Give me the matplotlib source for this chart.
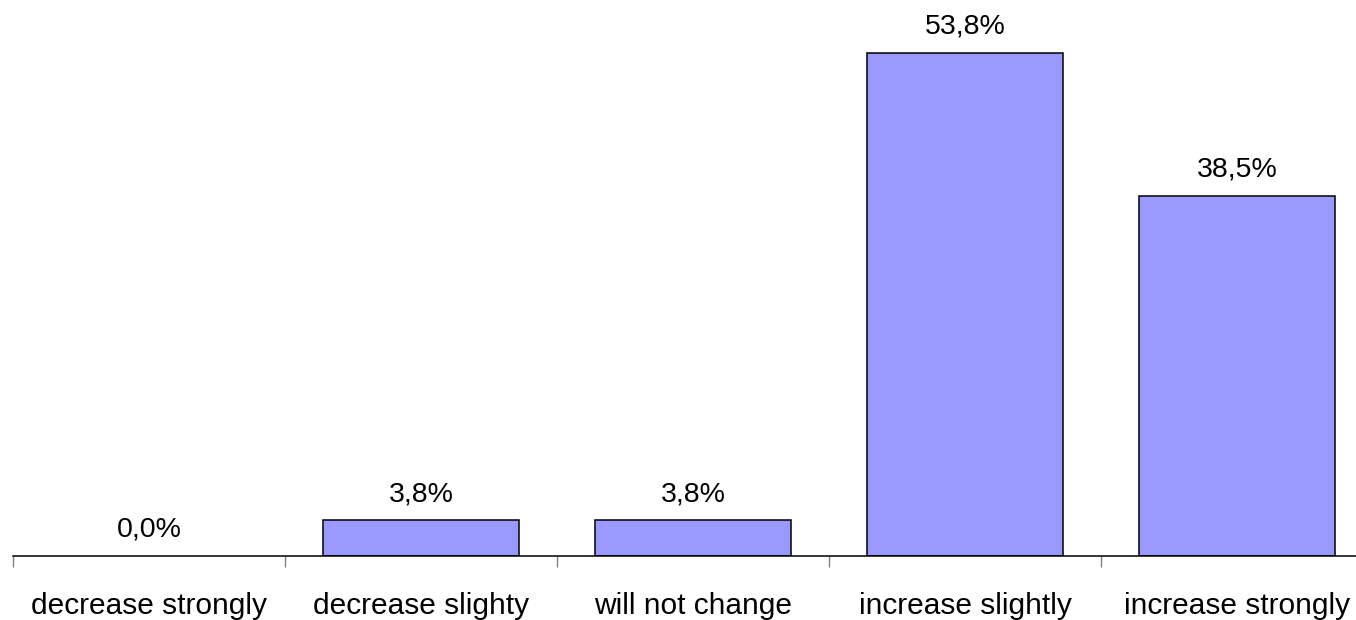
import matplotlib.pyplot as plt
import numpy as np

plt.rcParams['font.family'] = ['Liberation Sans', 'DejaVu Sans']

categories = ['decrease strongly', 'decrease slighty', 'will not change',
              'increase slightly', 'increase strongly']
values = [0.0, 3.8, 3.8, 53.8, 38.5]
labels = ['0,0%', '3,8%', '3,8%', '53,8%', '38,5%']

W, H = 1356, 620
fig = plt.figure(figsize=(W / 100, H / 100), dpi=100)
# axes: left edge at x=13px, each category 272px wide, baseline at y=556px
ax = fig.add_axes([13 / W, 64 / H, 1360 / W, 556 / H])

x = np.arange(len(categories))
bars = ax.bar(x, values, width=0.72, color='#9999FF', edgecolor='black', linewidth=1.1, zorder=2)
# an empty bar leaves no outline
for b, v in zip(bars, values):
    if v == 0:
        b.set_linewidth(0)

for xi, v, t in zip(x, values, labels):
    ax.annotate(t, (xi, v), xytext=(0, 14), textcoords='offset points',
                ha='center', va='baseline', fontsize=20.5)

ax.set_xlim(-0.5, len(categories) - 0.5)
ax.set_ylim(0, 59.5)

for s in ['top', 'right', 'left']:
    ax.spines[s].set_visible(False)
ax.spines['bottom'].set_linewidth(1.1)
ax.spines['bottom'].set_zorder(3)
ax.set_yticks([])

# category labels at centres, tick marks at boundaries
ax.set_xticks(x)
ax.set_xticklabels(categories, fontsize=21.5)
ax.tick_params(axis='x', which='major', length=0, pad=26)
ax.set_xticks(np.arange(-0.5, len(categories)), minor=True)
ax.tick_params(axis='x', which='minor', length=8, width=1, color='#808080')

fig.savefig('out.png', dpi=100)
